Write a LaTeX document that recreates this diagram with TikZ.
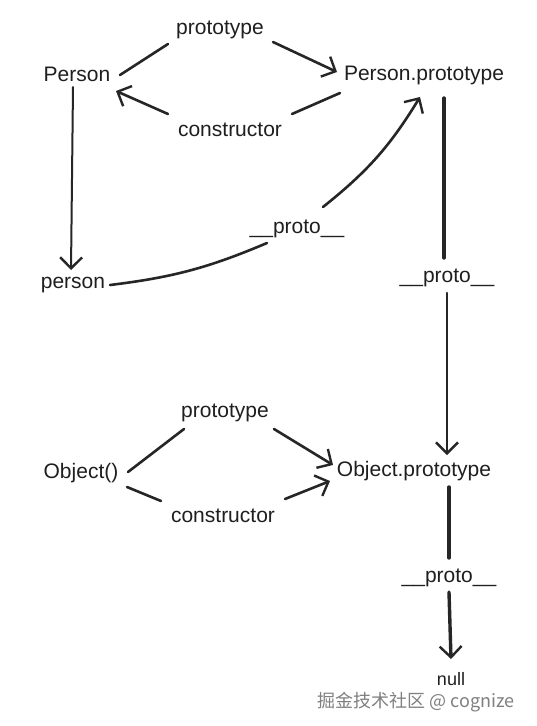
\documentclass[tikz,border=0pt]{standalone}
\usepackage{fontspec}
\setmainfont{Liberation Sans}
\newfontfamily\cjkfont{Noto Sans CJK SC}
\usetikzlibrary{arrows.meta}
\begin{document}
\begin{tikzpicture}[x=1pt,y=-1pt,
  lbl/.style={font=\fontsize{21}{23}\selectfont, inner sep=1pt, text=black!88},
  conn/.style={line width=2.6pt, draw=black!85, line cap=round},
  thick conn/.style={conn, line width=3.4pt},
  barb/.style={-{Straight Barb[length=11pt,width=22pt,line width=2.4pt]}},
]
\useasboundingbox (0,0) rectangle (536,726);
\fill[white] (0,0) rectangle (536,726);

% nodes
\node[lbl] (Person) at (77,74) {Person};
\node[lbl] (ptop) at (220,30) {prototype};
\node[lbl] (PP) at (424,75) {Person.prototype};
\node[lbl] (ctop) at (230,130) {constructor};
\node[lbl] (person) at (73,285) {person};
\node[lbl] (proto1) at (297,229) {\_\_proto\_\_};
\node[lbl] (proto2) at (447,278) {\_\_proto\_\_};
\node[lbl] (obj) at (81,473) {Object()};
\node[lbl] (pbot) at (225,413) {prototype};
\node[lbl] (OP) at (414,471) {Object.prototype};
\node[lbl] (cbot) at (223,516) {constructor};
\node[lbl] (proto3) at (449,578) {\_\_proto\_\_};
\node[lbl, font=\fontsize{18}{20}\selectfont, inner sep=0pt] (null) at (451,679) {null};
\node[font=\cjkfont\fontsize{18}{20}\selectfont, text=black!50, inner sep=0pt] (wm) at (416,702) {掘金技术社区 @ cognize};

% connectors
\draw[conn] ([shift={(43,1)}]Person.center) -- ([shift={(-52,14)}]ptop.center);
\draw[conn,barb] ([shift={(53,12)}]ptop.center) -- ([shift={(-87,-3)}]PP.center);
\draw[conn] ([shift={(-84,18)}]PP.center) -- ([shift={(62,-16)}]ctop.center);
\draw[conn,barb] ([shift={(-62,-16)}]ctop.center) -- ([shift={(39,17)}]Person.center);
\draw[conn,line width=2pt,barb] ([shift={(-4,13)}]Person.center) -- ([shift={(-2,-15)}]person.center);
\draw[conn] ([shift={(37,0)}]person.center) to[bend right=8] ([shift={(-30,14)}]proto1.center);
\draw[conn,barb] ([shift={(26,-22)}]proto1.center) to[bend right=10] ([shift={(-4,22)}]PP.center);
\draw[thick conn] ([shift={(20,23)}]PP.center) -- ([shift={(-3,-20)}]proto2.center);
\draw[conn,barb] ([shift={(0,15)}]proto2.center) -- ([shift={(33,-16)}]OP.center);
\draw[conn] ([shift={(47,-1)}]obj.center) -- ([shift={(-41,16)}]pbot.center);
\draw[conn,barb] ([shift={(49,16)}]pbot.center) -- ([shift={(-81,-6)}]OP.center);
\draw[conn] ([shift={(46,14)}]obj.center) -- ([shift={(-62,-15)}]cbot.center);
\draw[conn,barb] ([shift={(62,-17)}]cbot.center) -- ([shift={(-84,10)}]OP.center);
\draw[thick conn] ([shift={(35,16)}]OP.center) -- ([shift={(0,-20)}]proto3.center);
\draw[thick conn,barb] ([shift={(0,14)}]proto3.center) -- ([shift={(0,-20)}]null.center);
\end{tikzpicture}
\end{document}
